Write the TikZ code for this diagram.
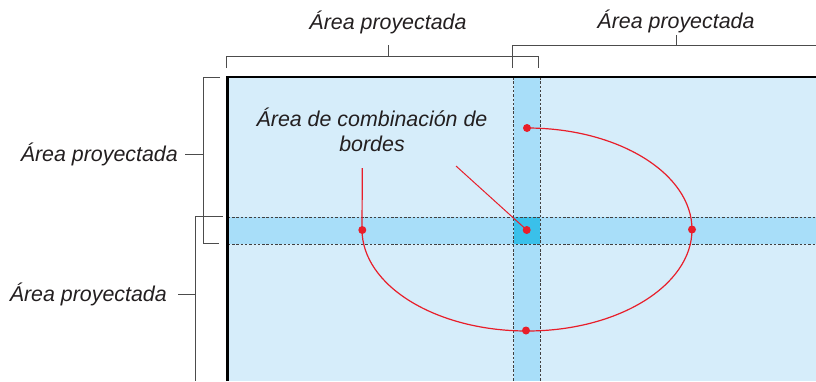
\documentclass[tikz,border=0pt]{standalone}
\usepackage{fontspec}
\setmainfont{Liberation Sans}
\definecolor{areablue}{RGB}{214,237,250}
\definecolor{bandblue}{RGB}{168,222,249}
\definecolor{mixblue}{RGB}{58,192,234}
\definecolor{markred}{RGB}{232,30,42}
\definecolor{inkgray}{RGB}{35,31,32}
\tikzset{
  bracket/.style={draw=black!70, line width=0.9pt},
  seam/.style={draw=black!75, line width=0.8pt, dash pattern=on 2.5pt off 1.8pt},
  label/.style={font=\fontsize{21.4}{25}\selectfont\itshape, text=inkgray, inner sep=0pt},
  dot/.style={circle, fill=markred, inner sep=0pt, minimum size=8pt},
  redline/.style={draw=markred, line width=1.2pt}
}
\begin{document}
\begin{tikzpicture}[x=1pt,y=-1pt]
  \useasboundingbox (0,0) rectangle (816,381);
  % screen areas and overlap bands
  \fill[areablue] (227.7,77) rectangle (816,381);
  \fill[bandblue] (513.5,77) rectangle (540,381);
  \fill[bandblue] (227.7,217) rectangle (816,244);
  \fill[mixblue] (513.5,217) rectangle (540,244);
  \draw[seam] (513.5,77) -- (513.5,381);
  \draw[seam] (540,77) -- (540,381);
  \draw[seam] (227.7,217) -- (816,217);
  \draw[seam] (227.7,244) -- (816,244);
  \draw[line width=2.6pt] (227.7,381) -- (227.7,77) -- (816,77);
  % brackets
  \draw[bracket] (226.7,68) -- (226.7,56.7) -- (538.7,56.7) -- (538.7,68);
  \draw[bracket] (388,56.7) -- (388,45);
  \draw[bracket] (512.7,68) -- (512.7,45) -- (816,45);
  \draw[bracket] (676,45) -- (676,35);
  \draw[bracket] (220,77) -- (203.3,77) -- (203.3,243.7) -- (219.3,243.7);
  \draw[bracket] (203.3,154.3) -- (185,154.3);
  \draw[bracket] (222.7,216) -- (195.7,216) -- (195.7,381);
  \draw[bracket] (195.7,294) -- (177.7,294);
  \node[label] (topa) at (388,22) {Área proyectada};
  \node[label] (topb) at (676,21) {Área proyectada};
  \node[label, anchor=east] (lefta) at (178,154.5) {Área proyectada};
  \node[label, anchor=east] (leftb) at (167,294) {Área proyectada};
  % blend area marks
  \node[dot] (top) at (527,128) {};
  \node[dot] (right) at (692,229.5) {};
  \node[dot] (bottom) at (526,330.5) {};
  \node[dot] (left) at (362.3,230) {};
  \node[dot] (mid) at (526.7,230) {};
  \coordinate (stem) at (362.3,168);
  \coordinate (tail) at (456,166);
  \draw[redline] (top.center) arc[start angle=-90, end angle=180, x radius=165, y radius=101.5] -- (stem);
  \draw[markred, line width=1pt] (tail) -- (mid.center);
  \node[label, align=center, anchor=north] (blend) at (372,108) {Área de combinación de\\bordes};
\end{tikzpicture}
\end{document}
